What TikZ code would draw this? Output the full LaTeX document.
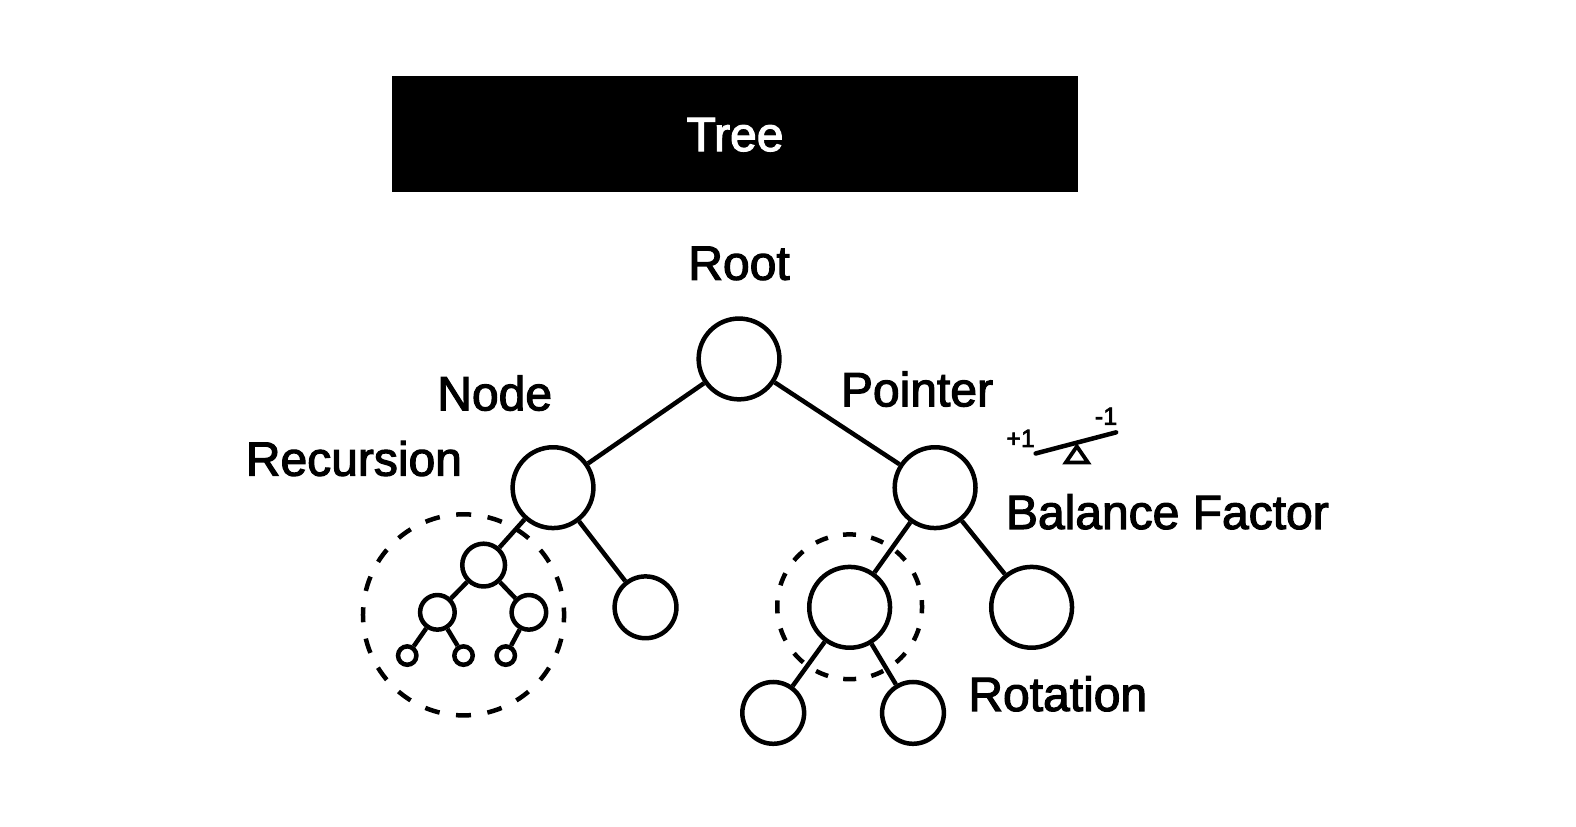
\documentclass[tikz,border=0pt]{standalone}
\usepackage{fontspec}
\setmainfont{Liberation Sans}[FakeBold=2.4]
\usepackage{tikz}

\begin{document}
\begin{tikzpicture}[x=0.50275pt,y=-0.50275pt,line width=2.25pt,
treenode/.style={circle,draw,fill=white,inner sep=0pt,minimum size=#1},
word/.style={inner sep=0pt,font=\fontsize{24}{26}\selectfont},
tiny/.style={inner sep=0pt,font=\fontsize{12.5}{14}\selectfont}]
\useasboundingbox (0,0) rectangle (1567.4,821.5);
\fill (390,76) rectangle (1072,191);
\node[word,text=white] (title) at (731,134) {Tree};

\node[word] (l_root) at (735,262) {Root};
\node[word] (l_node) at (492,391) {Node};
\node[word] (l_ptr) at (912,387) {Pointer};
\node[word] (l_rec) at (352,456) {Recursion};
\node[word] (l_bal) at (1161,509) {Balance Factor};
\node[word] (l_rot) at (1052,690) {Rotation};
\node[tiny] (l_plus) at (1015,436) {+1};
\node[tiny] (l_minus) at (1100,414) {-1};

\node[treenode=40.4pt] (root) at (735,357) {};
\node[treenode=40.4pt] (a) at (550,485) {};
\node[treenode=40.4pt] (b) at (930,485) {};
\node[treenode=30.9pt] (a_1) at (642,604) {};
\node[treenode=40.4pt] (b_0) at (845,604) {};
\node[treenode=40.4pt] (b_1) at (1026,604) {};
\node[treenode=30.9pt] (c_0) at (769,709) {};
\node[treenode=30.9pt] (c_1) at (908,709) {};
\node[treenode=21.4pt] (a_0) at (481,562) {};
\node[treenode=17.3pt] (d_0) at (435,609) {};
\node[treenode=17.3pt] (d_1) at (526,609) {};
\node[treenode=9.2pt] (e_0) at (405,652) {};
\node[treenode=9.2pt] (e_1) at (461,652) {};
\node[treenode=9.2pt] (e_2) at (503,652) {};

\path (root) edge (a) edge (b)
(a) edge (a_0) edge (a_1)
(b) edge (b_0) edge (b_1)
(b_0) edge (c_0) edge (c_1)
(a_0) edge (d_0) edge (d_1)
(d_0) edge (e_0) edge (e_1)
(d_1) edge (e_2);

\draw[dash pattern=on 7.5pt off 8.3pt,dash phase=3.75pt] (461,611.5) circle (100);
\draw[dash pattern=on 6.5pt off 7.71pt,dash phase=3.25pt] (845,603.5) circle (72);

% seesaw
\coordinate (s_l) at (1030,451);
\coordinate (s_r) at (1110,430);
\draw[line cap=round] (s_l) -- (s_r);
\draw[line width=1.9pt] (1071,444) -- (1060,460) -- (1082,460) -- cycle;
\end{tikzpicture}
\end{document}
